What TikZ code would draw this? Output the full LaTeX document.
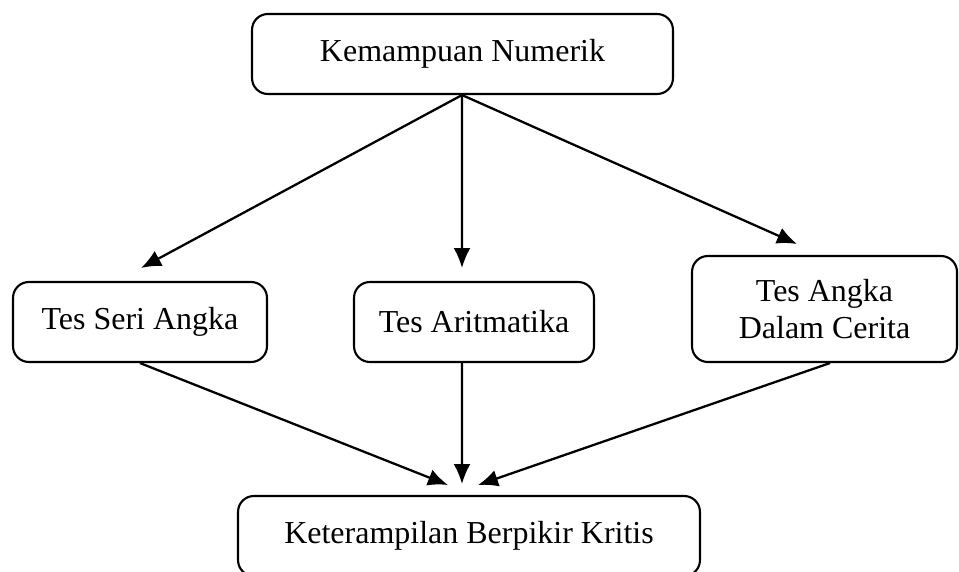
\documentclass[tikz,border=0pt]{standalone}
\usepackage{fontspec}
\setmainfont{Liberation Serif}
\usepackage{tikz}
\usetikzlibrary{arrows.meta}

\begin{document}
\begin{tikzpicture}[x=0.02cm, y=-0.02cm,
  box/.style={draw=black, rounded corners=9pt, line width=1.2pt, text=black, align=center, font=\fontsize{18.2}{21}\selectfont, inner sep=0pt},
  link/.style={->, >={Latex[length=0.40cm, width=0.34cm]}, black, line width=1.3pt}]
  \useasboundingbox (0, 0) rectangle (959, 571);

  \node[box, minimum width=8.42cm, minimum height=1.6cm] (num) at (462.5, 54) {Kemampuan Numerik};

  \node[box, minimum width=5.08cm, minimum height=1.6cm] (seri)   at (140, 322)   {Tes Seri Angka};
  \node[box, minimum width=4.80cm, minimum height=1.6cm] (arit)   at (474, 322)   {Tes Aritmatika};
  \node[box, minimum width=5.30cm, minimum height=2.12cm] (cerita) at (824.5, 309) {Tes Angka\\Dalam Cerita};

  \node[box, minimum width=9.24cm, minimum height=1.6cm] (kritis) at (469, 536) {Keterampilan Berpikir Kritis};

  % arrow tips
  \coordinate (tSeri)   at (141, 268);
  \coordinate (tArit)   at (462, 268);
  \coordinate (tCerita) at (797, 244);
  \coordinate (tKrit1)  at (448, 485);
  \coordinate (tKrit2)  at (462, 484);
  \coordinate (tKrit3)  at (478, 485);

  \draw[link] ([xshift=-0.01cm]num.south) -- (tSeri);
  \draw[link] ([xshift=-0.01cm]num.south) -- (tArit);
  \draw[link] ([xshift=-0.01cm]num.south) -- (tCerita);

  \draw[link] (seri.south) -- (tKrit1);
  \draw[link] ([xshift=-0.24cm]arit.south) -- (tKrit2);
  \draw[link] ([xshift=0.11cm]cerita.south) -- (tKrit3);
\end{tikzpicture}
\end{document}
